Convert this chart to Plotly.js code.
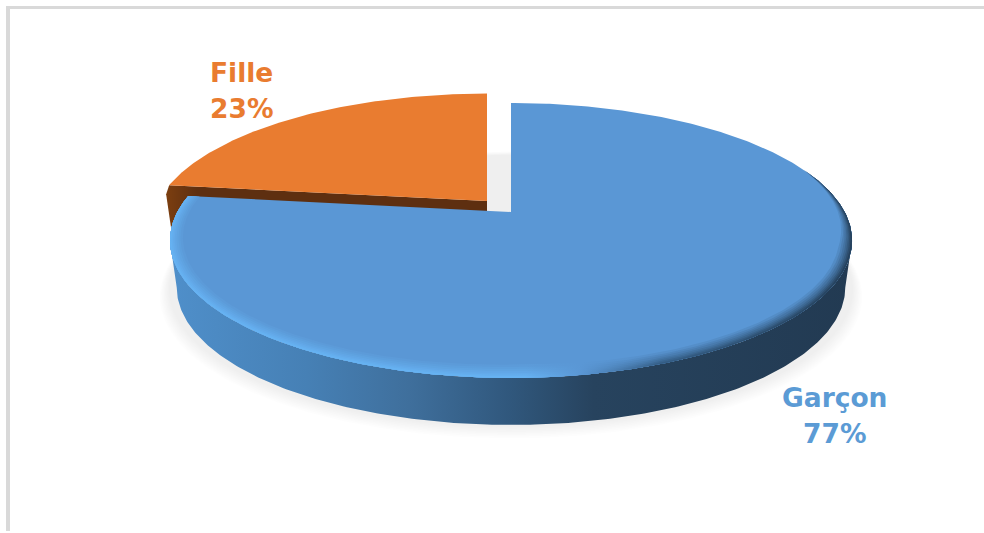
<!DOCTYPE html>
<html>
<head>
<meta charset="utf-8">
<script src="https://cdn.plot.ly/plotly-3.0.1.min.js"></script>
<style>html,body{margin:0;padding:0;background:#fff}#chart{width:984px;height:533px}</style>
</head>
<body>
<div id="chart"></div>
<script>
// Share of boys and girls, drawn as a tilted, extruded pie
const categories = ['Garçon', 'Fille'];
const shares = [77, 23];
const textColors = ['#5b9bd5', '#e97c30'];

// Pie projection: a unit circle seen under perspective, in pixel-scaled axes
const tilt = 0.207, radiusX = 333.7, radiusY = 131.6;
const blueOrigin = {x: 511, y: 212, s: 1};
const orangeOrigin = {x: 487, y: 201, s: 0.985};
const depth = 47, lowerNarrowing = 0.98;

const total = shares.reduce((a, b) => a + b, 0);
const splitDeg = 360 * shares[0] / total;

function project(deg, r, o) {
  const t = deg * Math.PI / 180, u = r * Math.sin(t), v = r * Math.cos(t);
  const w = 1 + tilt * v;
  return [o.x + o.s * radiusX * u / w, o.y - o.s * radiusY * v / w];
}
function sweep(a, b, rf, o) {
  const pts = [], n = Math.max(2, Math.ceil(Math.abs(b - a) * 1.5));
  for (let i = 0; i <= n; i++) {
    const d = a + (b - a) * i / n;
    pts.push(project(d, typeof rf === 'function' ? rf(d) : rf, o));
  }
  return pts;
}
function poly(pts, style) {
  return Object.assign({
    x: pts.map(p => p[0]), y: pts.map(p => p[1]),
    type: 'scatter', mode: 'lines', line: {width: 0}, fill: 'toself',
    hoverinfo: 'skip', showlegend: false
  }, style);
}
function hex(c) { return [1, 3, 5].map(i => parseInt(c.substr(i, 2), 16)); }
function mix(a, b, t) {
  const A = hex(a), B = hex(b);
  return 'rgb(' + A.map((v, i) => Math.round(v + (B[i] - v) * t)).join(',') + ')';
}
function horizontal(stops, a, b) {
  return {type: 'horizontal', start: a, stop: b, colorscale: stops};
}

const traces = [];

// Soft ground shadow built from widening translucent rings
for (let i = 8; i >= 1; i--) {
  const ring = sweep(0, 360, 1 + i * 0.0036, blueOrigin).map(p => [p[0], p[1] + depth + 1 + i * 0.8]);
  traces.push(poly(ring, {fillcolor: 'rgba(0,0,0,0.009)'}));
}

// Fille: inner wall, then the top face
const corner = project(splitDeg, 1, orangeOrigin);
const apexO = [orangeOrigin.x, orangeOrigin.y];
const wall = [apexO, corner, [corner[0] - 3, corner[1] + 9], [corner[0] + 3, corner[1] + 50], [apexO[0], apexO[1] + 40]];
traces.push(poly(wall, {fillgradient: horizontal([[0, '#7d3f10'], [0.1, '#5e2f10'], [1, '#5e2f10']], 165, 487)}));
traces.push(poly([apexO].concat(sweep(splitDeg, 360, 1, orangeOrigin)), {fillcolor: '#e97c30'}));

// Garçon: outer wall below the rim, then the top face
const sideStart = 102, sideEnd = Math.min(258, splitDeg);
const rim = sweep(sideStart, sideEnd, 1, blueOrigin);
const lower = rim.map(p => [blueOrigin.x + (p[0] - blueOrigin.x) * lowerNarrowing, p[1] + depth]).reverse();
traces.push(poly(rim.concat(lower), {
  fillgradient: horizontal([[0, '#4f8fca'], [0.2, '#4680b5'], [0.35, '#3f6f9c'], [0.5, '#30577c'],
    [0.62, '#27435e'], [1, '#223a52']], 171, 853)
}));

const blueFace = '#5a97d5';
const apexB = [blueOrigin.x, blueOrigin.y];
traces.push(poly([apexB].concat(sweep(0, splitDeg, 1, blueOrigin)), {fillcolor: blueFace}));

// Bevel along the near rim, bright on the left and falling into shade on the right
const bevelEdge = [[0, '#66b2f2'], [0.52, '#66b2f2'], [0.6, '#5a97d5'], [0.72, '#345d85'], [1, '#25415c']];
const bevelBands = [0.065, 0.053, 0.043, 0.033, 0.024, 0.016, 0.008];
const taper = d => d < 70 ? 0 : d < 105 ? (d - 70) / 35 : 1;
const bandShape = d => 1 - 0.45 * Math.abs(Math.sin(d * Math.PI / 180));
bevelBands.forEach((w, i) => {
  const t = (i + 1) / bevelBands.length;
  const outer = sweep(70, splitDeg, 1, blueOrigin);
  const inner = sweep(splitDeg, 70, d => 1 - w * taper(d) * bandShape(d), blueOrigin);
  traces.push(poly(outer.concat(inner), {
    fillgradient: horizontal(bevelEdge.map(s => [s[0], mix(blueFace, s[1], t)]), 171, 853)
  }));
});

// Category name and share above one another beside each slice
const labelSpots = [{x: 834.5, name: 397, share: 433}, {x: 241, name: 72, share: 108}];
const annotations = [];
categories.forEach((c, i) => {
  const font = {family: 'DejaVu Sans', size: 26.5, color: textColors[i]};
  annotations.push({x: labelSpots[i].x, y: labelSpots[i].name, text: '<b>' + c + '</b>', showarrow: false, font});
  annotations.push({x: labelSpots[i].x, y: labelSpots[i].share, text: '<b>' + shares[i] + '%</b>', showarrow: false, font});
});

const layout = {
  width: 984, height: 533,
  margin: {l: 0, r: 0, t: 0, b: 0},
  paper_bgcolor: '#fff', plot_bgcolor: '#fff',
  xaxis: {range: [0, 984], visible: false, fixedrange: true},
  yaxis: {range: [533, 0], visible: false, fixedrange: true},
  annotations,
  // Frame fragment along the top and left of the picture
  shapes: [
    {type: 'rect', xref: 'x', yref: 'y', x0: 6, x1: 984, y0: 6, y1: 9, fillcolor: '#d9d9d9', line: {width: 0}},
    {type: 'rect', xref: 'x', yref: 'y', x0: 6, x1: 10, y0: 6, y1: 531, fillcolor: '#d9d9d9', line: {width: 0}}
  ]
};
Plotly.newPlot('chart', traces, layout, {displayModeBar: false, staticPlot: true});
</script>
</body>
</html>
